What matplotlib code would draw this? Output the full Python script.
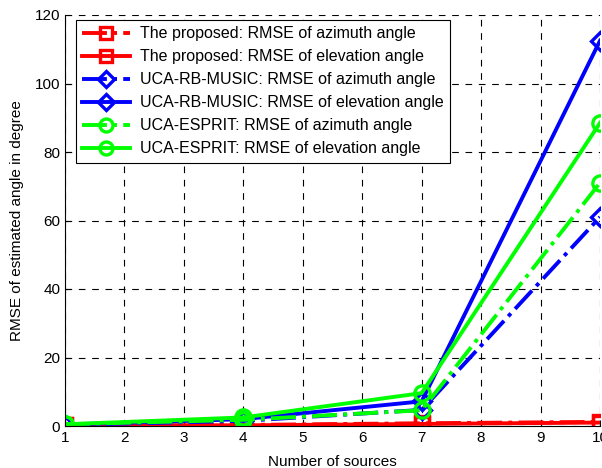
import matplotlib
matplotlib.use("Agg")
import matplotlib.pyplot as plt

plt.rcParams["font.family"] = ["Liberation Sans", "DejaVu Sans"]

# number of sources
sources = [1, 4, 7, 10]

# RMSE values (degree)
prop_az = [0.4, 0.3, 0.8, 1.2]
prop_el = [0.3, 0.2, 0.6, 1.0]
music_az = [0.3, 1.5, 4.7, 61]
music_el = [0.4, 2.0, 7.2, 112.5]
esprit_az = [0.5, 1.8, 4.6, 71]
esprit_el = [0.5, 2.5, 9.6, 88.5]

labels = [
    "The proposed: RMSE of azimuth angle",
    "The proposed: RMSE of elevation angle",
    "UCA-RB-MUSIC: RMSE of azimuth angle",
    "UCA-RB-MUSIC: RMSE of elevation angle",
    "UCA-ESPRIT: RMSE of azimuth angle",
    "UCA-ESPRIT: RMSE of elevation angle",
]

fig = plt.figure(figsize=(6.02, 4.68), dpi=100)
ax = fig.add_axes([65 / 602, 1 - 426 / 468, 535 / 602, 411 / 468])

red = "#ff0000"
blue = "#0000ff"
green = "#00ff00"
lw = 2.8
mew = 2.4

ax.plot(sources, prop_az, "-.", color=red, lw=lw, marker="s", ms=10, mfc="none", mew=mew, label=labels[0])
ax.plot(sources, prop_el, "-", color=red, lw=lw, marker="s", ms=10, mfc="none", mew=mew, label=labels[1])
ax.plot(sources, music_az, "-.", color=blue, lw=lw, marker="D", ms=9, mfc="none", mew=mew, label=labels[2])
ax.plot(sources, music_el, "-", color=blue, lw=lw, marker="D", ms=9, mfc="none", mew=mew, label=labels[3])
ax.plot(sources, esprit_az, "-.", color=green, lw=lw, marker="o", ms=11, mfc="none", mew=mew, label=labels[4])
ax.plot(sources, esprit_el, "-", color=green, lw=lw, marker="o", ms=11, mfc="none", mew=mew, label=labels[5])

ax.set_xlim(1, 10)
ax.set_ylim(0, 120)
ax.set_xticks(range(1, 11))
ax.set_yticks(range(0, 121, 20))
ax.tick_params(direction="in", labelsize=11, length=4)
ax.grid(True, linestyle=(0, (6, 6)), color="black", linewidth=0.8)
ax.spines["top"].set_visible(False)
ax.spines["right"].set_visible(False)
ax.set_xlabel("Number of sources", fontsize=11, labelpad=7)
ax.set_ylabel("RMSE of estimated angle in degree", fontsize=11, labelpad=8)

leg = ax.legend(loc="upper left", fontsize=11.5, numpoints=1, handlelength=3.0,
                handletextpad=0.6, labelspacing=0.5, borderpad=0.4,
                fancybox=False, framealpha=1, edgecolor="black",
                markerscale=0.85, bbox_to_anchor=(0.005, 1.007))
leg.get_frame().set_linewidth(0.8)

fig.savefig("out.png", dpi=100)
